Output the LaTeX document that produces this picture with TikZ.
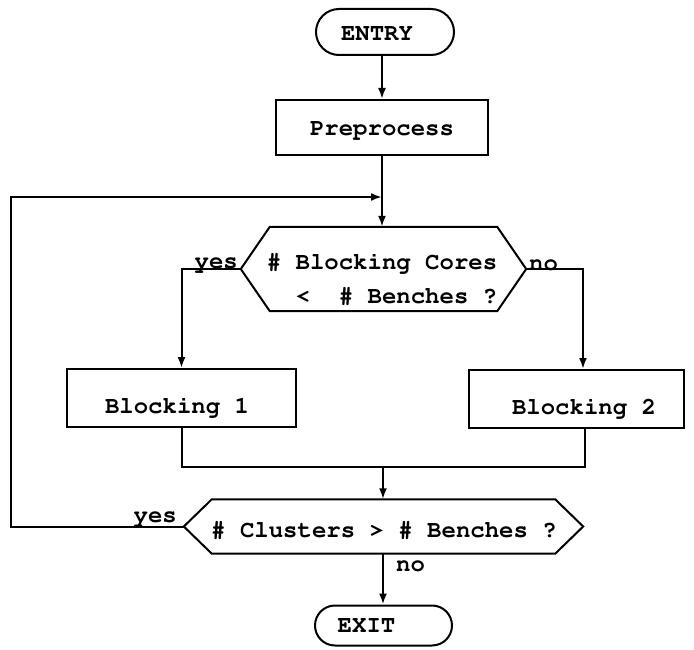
\documentclass[tikz,border=0pt]{standalone}
\usepackage[T1]{fontenc}
\usepackage{courier}
\usetikzlibrary{shapes.misc,arrows.meta,calc}
\begin{document}
\begin{tikzpicture}[x=1pt,y=-1pt,
  txt/.style={font=\ttfamily\bfseries\fontsize{24}{34}\selectfont},
  line/.style={line width=2pt},
  arr/.style={line,-{Latex[length=11pt,width=8pt]}},
  term/.style={txt,rounded rectangle,draw,line width=2pt,inner sep=0pt,text height=14pt,text depth=0pt},
  box/.style={txt,rectangle,draw,line width=2pt,inner sep=0pt,text height=14pt,text depth=0pt},
  hexa/.style={rectangle,draw=none,inner sep=0pt},
  lbl/.style={txt,inner sep=0pt}]
\useasboundingbox (0,0) rectangle (694,650);

% terminals and boxes
\node[term,minimum width=138pt,minimum height=46pt] (entry) at (385,32) {\raisebox{-2pt}{ENTRY}\rule{16pt}{0pt}};
\node[box,minimum width=212pt,minimum height=55pt] (pre) at (382,127.5) {\raisebox{-1pt}{Preprocess}};
\node[box,minimum width=229pt,minimum height=58pt] (b1) at (181.5,398) {\raisebox{-8pt}{Blocking 1}\rule{9pt}{0pt}};
\node[box,minimum width=215pt,minimum height=58pt] (b2) at (576.5,399) {\rule{15pt}{0pt}\raisebox{-8pt}{Blocking 2}};
\node[term,minimum width=137pt,minimum height=40pt] (exit) at (383.5,625.5) {EXIT\rule{34pt}{0pt}};

% decision 1
\node[hexa,minimum width=285pt,minimum height=84pt] (d1) at (383.5,269) {};
\draw[line] (d1.west) -- ([xshift=29pt]d1.north west) -- ([xshift=-29pt]d1.north east)
  -- (d1.east) -- ([xshift=-29pt]d1.south east) -- ([xshift=29pt]d1.south west) -- cycle;
\node[lbl,align=right] (d1t) at (382,279) {\# Blocking Cores\\<~~\# Benches ?};

% decision 2
\node[hexa,minimum width=399pt,minimum height=54pt] (d2) at (383.5,526.5) {};
\draw[line] (d2.west) -- ([xshift=28pt]d2.north west) -- ([xshift=-28pt]d2.north east)
  -- (d2.east) -- ([xshift=-28pt]d2.south east) -- ([xshift=28pt]d2.south west) -- cycle;
\node[lbl] (d2t) at (384,530) {\# Clusters > \# Benches ?};

% junctions
\coordinate (j1) at (382,197);
\coordinate (fbl) at (11,197);
\coordinate (j2) at (383,467);

% connectors
\draw[arr] (entry.south -| pre.north) -- (pre.north);
\draw[arr] (pre.south) -- (pre.south |- d1.north);
\draw[arr] (d2.west) -| (fbl) -- (j1);
\draw[arr] (d1.west) -| (b1.north);
\draw[arr] (d1.east) -| ([xshift=6.5pt]b2.north);
\draw[line] (b1.south) |- (j2) -| ([xshift=8.5pt]b2.south);
\draw[arr] (j2) -- (j2 |- d2.north);
\draw[arr] (d2.south -| j2) -- (exit.north -| j2);

% labels
\node[lbl,anchor=base east] (y1) at (238,268) {yes};
\node[lbl,anchor=base west] (n1) at (529,270) {no};
\node[lbl,anchor=base east] (y2) at (177,522) {yes};
\node[lbl,anchor=base west] (n2) at (396,571) {no};
\end{tikzpicture}
\end{document}
